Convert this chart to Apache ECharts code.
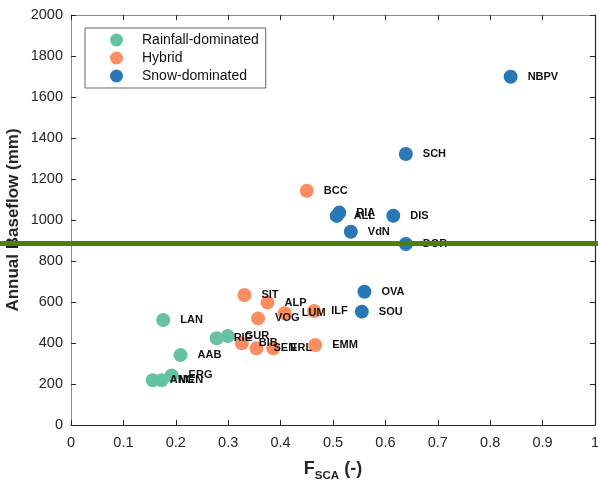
<!DOCTYPE html>
<html>
<head>
<meta charset="utf-8">
<script src="https://cdn.jsdelivr.net/npm/echarts@6/dist/echarts.min.js"></script>
<style>
  html, body { margin: 0; padding: 0; background: #fff; }
  #chart { width: 598px; height: 487px; }
</style>
</head>
<body>
<div id="chart"></div>
<script>
// catchment data
var rainNames = ["ANC", "MEN", "ERG", "AAB", "LAN", "RIE", "GUR"];
var rainF = [0.156, 0.173, 0.192, 0.209, 0.176, 0.278, 0.299];
var rainQ = [218, 218, 242, 341, 512, 423, 434];

var hybridNames = ["BIB", "SEN", "ERL", "EMM", "SIT", "ALP", "VOG", "LUM", "ILF", "BCC"];
var hybridF = [0.326, 0.354, 0.386, 0.466, 0.331, 0.375, 0.357, 0.408, 0.464, 0.450];
var hybridQ = [399, 374, 374, 390, 634, 597, 520, 545, 556, 1143];

var snowNames = ["NBPV", "SCH", "RIA", "ALL", "DIS", "VdN", "DOR", "OVA", "SOU"];
var snowF = [0.839, 0.639, 0.512, 0.507, 0.615, 0.534, 0.639, 0.560, 0.555];
var snowQ = [1699, 1322, 1036, 1020, 1021, 943, 883, 650, 553];

var thresholdQ = 885;
var lineF = [0, 1];

var groupNames = ["Rainfall-dominated", "Hybrid", "Snow-dominated"];
var groupColors = ["#66c2a5", "#fc8d62", "#2878b8"];

function points(names, xs, ys) {
  return names.map(function (n, i) {
    return { name: n, value: [xs[i], ys[i]] };
  });
}

var chart = echarts.init(document.getElementById("chart"));

// ticks point into the plot on every side
function ticks() {
  return { show: true, inside: true, length: 5, lineStyle: { color: "#262626", width: 1 } };
}
var labelStyle = { color: "#262626", fontSize: 14.5, fontFamily: "Liberation Sans, Arial" };

function scatter(i, data) {
  return {
    name: groupNames[i],
    type: "scatter",
    xAxisIndex: 0,
    yAxisIndex: 0,
    symbolSize: 14,
    itemStyle: { color: groupColors[i], opacity: 1 },
    data: data,
    label: {
      show: true,
      position: "right",
      distance: 10,
      formatter: "{b}",
      color: "#111",
      fontSize: 11,
      fontWeight: "bold",
      fontFamily: "Liberation Sans, Arial",
    },
    z: 3,
  };
}

chart.setOption({
  animation: false,
  backgroundColor: "#fff",
  grid: [
    { left: 71, right: 3, top: 15, bottom: 62, outerBoundsMode: "none" },
    // full width grid, only for the threshold line
    { left: 0, right: 0, top: 15, bottom: 62, outerBoundsMode: "none" },
  ],
  legend: {
    data: groupNames,
    orient: "vertical",
    left: 85,
    top: 28,
    padding: [5, 7, 5, 25],
    itemGap: 4,
    itemWidth: 25,
    itemHeight: 13,
    icon: "circle",
    borderColor: "#666",
    borderWidth: 1,
    textStyle: { color: "#111", fontSize: 14, fontFamily: "Liberation Sans, Arial", padding: [0, 0, 0, 8] },
  },
  xAxis: [
    {
      gridIndex: 0,
      type: "value",
      min: 0,
      max: 1,
      interval: 0.1,
      position: "bottom",
      axisLine: { show: true, onZero: false, lineStyle: { color: "#262626", width: 1.2 } },
      axisTick: ticks(),
      splitLine: { show: false },
      axisLabel: Object.assign({ margin: 10 }, labelStyle, {
        formatter: function (v) { return Math.round(v * 10) / 10 + ""; },
      }),
      name: "{f|F}{s|SCA}{f| (-)}",
      nameLocation: "middle",
      nameGap: 32,
      nameMoveOverlap: false,
      nameTextStyle: {
        rich: {
          f: { fontSize: 18, fontWeight: "bold", color: "#262626", fontFamily: "Liberation Sans, Arial" },
          s: { fontSize: 11.5, fontWeight: "bold", color: "#262626", fontFamily: "Liberation Sans, Arial", padding: [13, 0, 0, 0] },
        },
      },
    },
    {
      gridIndex: 0,
      type: "value",
      min: 0,
      max: 1,
      interval: 0.1,
      position: "top",
      axisLine: { show: true, onZero: false, lineStyle: { color: "#8c8c8c" } },
      axisTick: ticks(),
      axisLabel: { show: false },
      splitLine: { show: false },
    },
    { gridIndex: 1, type: "value", min: 0, max: 1, show: false },
  ],
  yAxis: [
    {
      gridIndex: 0,
      type: "value",
      min: 0,
      max: 2000,
      interval: 200,
      position: "left",
      axisLine: { show: true, onZero: false, lineStyle: { color: "#8c8c8c" } },
      axisTick: ticks(),
      splitLine: { show: false },
      axisLabel: Object.assign({ margin: 8 }, labelStyle, {
        formatter: function (v) { return String(v); },
      }),
      name: "Annual Baseflow (mm)",
      nameLocation: "middle",
      nameGap: 49,
      nameMoveOverlap: false,
      nameTextStyle: { fontSize: 17, fontWeight: "bold", color: "#262626", fontFamily: "Liberation Sans, Arial" },
    },
    {
      gridIndex: 0,
      type: "value",
      min: 0,
      max: 2000,
      interval: 200,
      position: "right",
      axisLine: { show: true, onZero: false, lineStyle: { color: "#262626", width: 1.2 } },
      axisTick: ticks(),
      axisLabel: { show: false },
      splitLine: { show: false },
    },
    { gridIndex: 1, type: "value", min: 0, max: 2000, show: false },
  ],
  series: [
    scatter(0, points(rainNames, rainF, rainQ)),
    scatter(1, points(hybridNames, hybridF, hybridQ)),
    scatter(2, points(snowNames, snowF, snowQ)),
    {
      type: "line",
      xAxisIndex: 2,
      yAxisIndex: 2,
      data: lineF.map(function (f) { return [f, thresholdQ]; }),
      symbol: "none",
      lineStyle: { color: "#4d7f0a", width: 5 },
      z: 5,
      silent: true,
    },
  ],
});
</script>
</body>
</html>
